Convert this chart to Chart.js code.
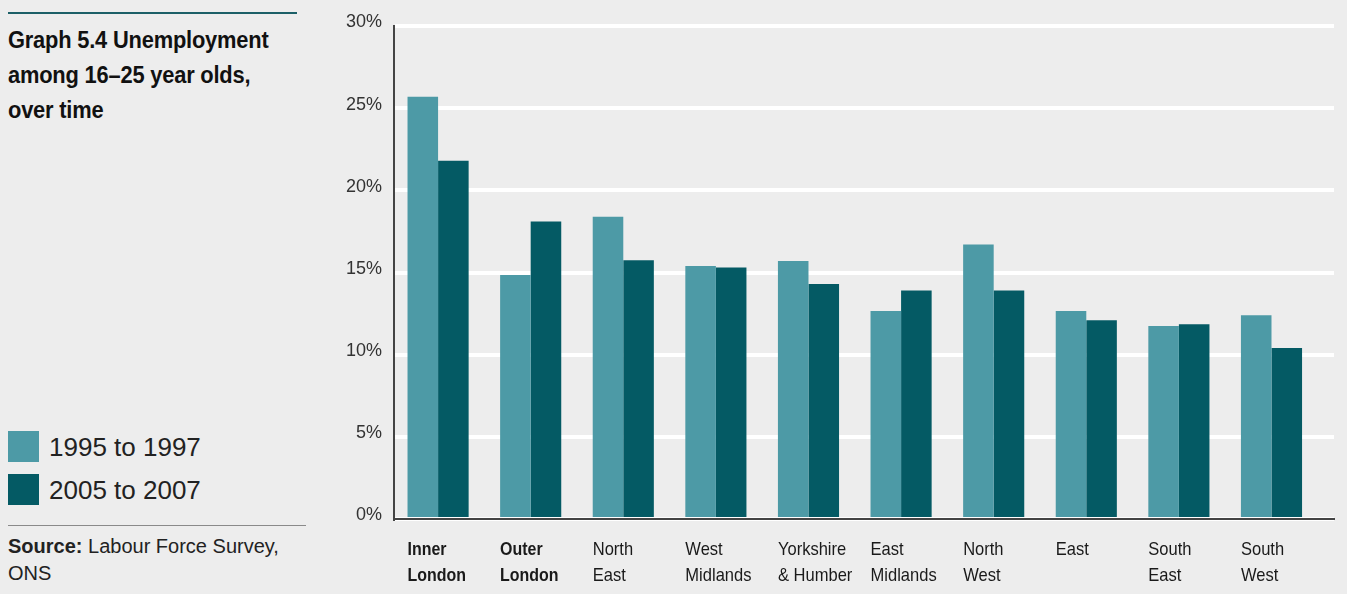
<!DOCTYPE html>
<html>
<head>
<meta charset="utf-8">
<script src="https://cdn.jsdelivr.net/npm/chart.js@4.4.1/dist/chart.umd.min.js"></script>
<style>
  body { margin: 0; background: #ededed; width: 1347px; height: 594px; overflow: hidden; position: relative; }
  #side { position: absolute; left: 8px; top: 0; width: 300px; }
  .rule-top { position: absolute; left: 0; top: 12px; width: 289px; height: 2px; background: #1c5f67; }
  h1 {
    position: absolute; left: 0; top: 23px; margin: 0; white-space: nowrap;
    font: bold 23px/35px "Liberation Sans", Arial, sans-serif; color: #111;
    transform: scaleX(0.95); transform-origin: 0 0; letter-spacing: -0.2px;
  }
  .legend { position: absolute; left: 0; font: 26px "Liberation Sans", Arial, sans-serif; color: #222; }
  .legend span.sw { position: absolute; left: 0; top: 0; width: 31px; height: 31px; }
  .legend span.tx { position: absolute; left: 41px; top: 1px; white-space: nowrap; line-height: 30px; }
  .rule-bot { position: absolute; left: 0; top: 525px; width: 298px; height: 1px; background: #8a8a8a; }
  .source { position: absolute; left: 0; top: 533px; white-space: nowrap; font: 20px/26.5px "Liberation Sans", Arial, sans-serif; color: #222; }
  #wrap { position: absolute; left: 300px; top: 0; }
</style>
</head>
<body>
<div id="side">
  <div class="rule-top"></div>
  <h1>Graph 5.4 Unemployment<br>among 16–25 year olds,<br>over time</h1>
  <div id="legend"></div>
  <div class="rule-bot"></div>
  <div class="source"><b>Source:</b> Labour Force Survey,<br>ONS</div>
</div>
<div id="wrap"><canvas id="chart" width="1047" height="594"></canvas></div>
<script>
// Regions, two-line labels
const regions = [
    ['Inner', 'London'], ['Outer', 'London'], ['North', 'East'], ['West', 'Midlands'],
    ['Yorkshire', '& Humber'], ['East', 'Midlands'], ['North', 'West'], ['East'],
    ['South', 'East'], ['South', 'West']
];

// Unemployment rate (%) among 16–25 year olds
const rate1995to1997 = [25.7, 14.85, 18.4, 15.4, 15.7, 12.65, 16.7, 12.65, 11.75, 12.4];
const rate2005to2007 = [21.8, 18.1, 15.75, 15.3, 14.3, 13.9, 13.9, 12.1, 11.85, 10.4];

const seriesNames = ['1995 to 1997', '2005 to 2007'];
const yTicks = [0, 5, 10, 15, 20, 25, 30];

const colors = ['#4d9aa6', '#045a64'];
const boldRegions = 2; // London rows are set in bold

// Legend built alongside the title block
const legendEl = document.getElementById('legend');
seriesNames.forEach((name, i) => {
    const item = document.createElement('div');
    item.className = 'legend';
    item.style.top = (431 + i * 43) + 'px';
    item.innerHTML = `<span class="sw" style="background:${colors[i]}"></span><span class="tx">${name}</span>`;
    legendEl.appendChild(item);
});

// Region labels: left-aligned under each bar pair, set in a condensed face
const regionLabels = {
    id: 'regionLabels',
    afterDraw(chart) {
        const { ctx, chartArea } = chart;
        const bars = chart.getDatasetMeta(0).data;
        ctx.save();
        ctx.fillStyle = '#1a1a1a';
        ctx.textBaseline = 'alphabetic';
        ctx.textAlign = 'left';
        regions.forEach((lines, i) => {
            const x = bars[i].x - bars[i].width / 2;
            const bold = i < boldRegions;
            ctx.font = `${bold ? 'bold ' : ''}19px "Liberation Sans", Arial, sans-serif`;
            lines.forEach((line, j) => {
                ctx.save();
                ctx.translate(x, chartArea.bottom + 36 + j * 25.7);
                ctx.scale(bold ? 0.84 : 0.87, 1);
                ctx.fillText(line, 0, 0);
                ctx.restore();
            });
        });
        ctx.restore();
    }
};

// region index as x so the axis can run a little past the last pair
const toPoints = values => values.map((y, x) => ({ x, y }));

new Chart(document.getElementById('chart'), {
    type: 'bar',
    data: {
        datasets: [
            { label: seriesNames[0], data: toPoints(rate1995to1997), backgroundColor: colors[0] },
            { label: seriesNames[1], data: toPoints(rate2005to2007), backgroundColor: colors[1] }
        ]
    },
    options: {
        responsive: false,
        animation: false,
        devicePixelRatio: 1,
        layout: { padding: { top: 26, right: 13, bottom: 0, left: 0 } },
        datasets: {
            bar: { barPercentage: 1, categoryPercentage: 0.66, borderWidth: 0 }
        },
        plugins: {
            legend: { display: false },
            tooltip: { enabled: false }
        },
        scales: {
            x: {
                type: 'linear',
                offset: false,
                min: -0.476,
                max: 9.675,
                grid: { display: false },
                border: { display: true, color: '#444', width: 2 },
                ticks: { display: false },
                afterFit: s => { s.height = 75; }
            },
            y: {
                min: 0,
                max: 30,
                afterBuildTicks: s => { s.ticks = yTicks.map(v => ({ value: v })); },
                afterFit: s => { s.width = 94; },
                grid: { color: '#ffffff', lineWidth: 4, drawTicks: false },
                border: { display: true, color: '#444', width: 2 },
                ticks: {
                    padding: 12,
                    labelOffset: -3.5,
                    color: '#333',
                    font: { family: '"Liberation Sans", Arial, sans-serif', size: 18 },
                    callback: v => v + '%'
                }
            }
        }
    },
    plugins: [regionLabels]
});
</script>
</body>
</html>
